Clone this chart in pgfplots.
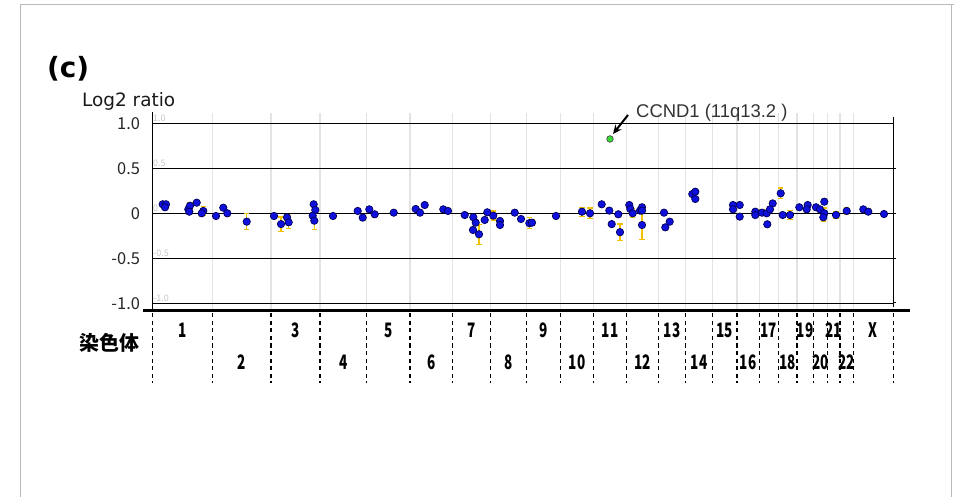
\documentclass[border=0pt]{standalone}
\usepackage{fontspec}
\usepackage{pgfplots}
\pgfplotsset{compat=1.18}
\usetikzlibrary{arrows.meta}
\setmainfont{DejaVu Sans}
\newfontfamily\jp{Noto Sans CJK JP}
\newfontfamily\cond[FakeStretch=0.68]{Noto Sans CJK JP}
\newfontfamily\lib{Liberation Sans}
\definecolor{dotblue}{HTML}{1010DD}
\definecolor{dotedge}{HTML}{00005A}
\definecolor{errgold}{HTML}{F2C200}
\definecolor{ccgreen}{HTML}{33DD33}
\definecolor{txt}{HTML}{333333}
\begin{document}
\begin{tikzpicture}
\path[use as bounding box] (0,0) rectangle (954bp,497bp);
\begin{axis}[
  at={(152.5bp,186.3bp)}, anchor=south west,
  scale only axis, width=740.8bp, height=198bp,
  xmin=152.5, xmax=893.3, ymin=-1.0822, ymax=1.1178,
  axis line style={draw=none},
  xtick={212.3,271,320,366.3,410,452.3,490.7,526.5,560.7,593.3,626.7,658.3,685.7,712.7,737,759.3,778.3,797,813.3,827.7,840,853.3},
  xticklabels={},
  ytick={-1,-0.5,0,0.5,1},
  yticklabels={-1.0,-0.5,0,0.5,1.0},
  major tick length=0pt,
  xmajorgrids, ymajorgrids,
  x grid style={gray!22, line width=1.2bp},
  y grid style={black, line width=0.9bp},
  yticklabel style={font=\fontsize{16.5}{18}\selectfont\jp, text=black!85, anchor=east, xshift=-9bp},
  clip=false,
]
\addplot[only marks, mark=*, mark size=3.7bp,
  mark options={fill=dotblue, draw=dotedge, line width=0.7bp},
  error bars/.cd, y dir=both, y explicit,
  error bar style={errgold, line width=1.3bp},
  error mark options={errgold, line width=1.3bp, mark size=2.7bp, rotate=90}]
table[x=x, y=y, y error=e] {
x y e
162.7 0.10 0.02
166 0.10 0.02
165 0.067 0.02
188.3 0.044 0.03
190 0.084 0.03
189.3 0.018 0.03
196.7 0.118 0.02
203.3 0.026 0.05
201.7 0.0 0.03
216 -0.03 0.03
223.3 0.062 0.02
227.3 0.0 0.03
246.7 -0.093 0.09
274 -0.03 0.02
281 -0.12 0.08
287 -0.045 0.03
288.7 -0.10 0.07
313.7 0.10 0.02
315.3 0.037 0.03
312.7 -0.027 0.03
314.3 -0.082 0.10
333 -0.03 0.02
357.7 0.026 0.02
362.7 -0.048 0.02
369.3 0.044 0.02
374.7 -0.011 0.03
393.7 0.007 0.02
415.7 0.048 0.02
420 0.007 0.02
424.7 0.092 0.02
443.3 0.044 0.03
448 0.026 0.02
464.7 -0.019 0.02
473.3 -0.044 0.02
475.7 -0.104 0.03
473 -0.185 0.03
479 -0.233 0.11
484.7 -0.074 0.02
487.3 0.011 0.03
493.3 -0.026 0.05
500 -0.085 0.02
500 -0.13 0.03
514.7 0.007 0.02
521 -0.063 0.02
529.3 -0.11 0.06
532 -0.104 0.03
556 -0.03 0.02
582 0.018 0.05
590 0.0 0.06
601.7 0.10 0.02
609.3 0.03 0.02
611.7 -0.12 0.02
618.3 -0.011 0.02
620 -0.21 0.09
629.3 0.092 0.02
630.3 0.048 0.03
632.7 0.0 0.05
640 0.03 0.02
642 0.067 0.03
642 0.03 0.02
642 -0.13 0.16
664 0.007 0.02
665.3 -0.156 0.03
669.7 -0.093 0.02
692.3 0.214 0.02
695.3 0.24 0.02
695.3 0.159 0.02
733 0.092 0.02
733 0.044 0.02
739.7 0.092 0.02
739.7 -0.037 0.03
755.3 0.018 0.02
755.3 -0.019 0.02
762 0.007 0.03
766.7 0 0.02
767.3 -0.122 0.02
772.7 0.11 0.02
770 0.044 0.02
780.7 0.222 0.06
782.7 -0.019 0.03
790 -0.019 0.05
799.3 0.067 0.02
807.7 0.092 0.02
806.7 0.044 0.03
816 0.067 0.02
820 0.044 0.02
824.3 0.129 0.03
824.3 0.0 0.06
823.3 -0.044 0.04
836 -0.019 0.04
846.7 0.026 0.04
863.3 0.044 0.02
868.3 0.018 0.03
884 -0.008 0.03
};
\addplot[only marks, mark=*, mark size=3.3bp,
  mark options={fill=ccgreen, draw=black!70, line width=0.7bp}]
coordinates {(610,0.826)};
\end{axis}
\begin{scope}[shift={(0,497bp)}, x=1bp, y=-1bp]
  % frame
  \draw[gray!55, line width=1bp] (20,497) -- (20,5) -- (954,5);
  \draw[gray!55, line width=1bp] (951,5) -- (951,497);
  % axis lines
  \draw[black, line width=1.5bp] (152.5,112.5) -- (152.5,311);
  \draw[black, line width=1.2bp] (893.3,117) -- (893.3,307);
  \foreach \yy in {168.3,213.3,258.3,303} \draw[black, line width=1bp] (893.3,\yy) -- (896,\yy);
  \draw[black, line width=2.6bp] (143,310.7) -- (910,310.7);
  % faint inner labels
  \foreach \t/\yy in {1.0/118,0.5/163,0/208,-0.5/253,-1.0/298}
    \node[anchor=west, inner sep=0, text=gray!45, font=\fontsize{9}{10}\selectfont\jp] at (153,\yy) {\t};
  % chromosome separators
  \foreach \xx in {152.5,212.3,271,320,366.3,410,452.3,490.7,526.5,560.7,593.3,626.7,658.3,685.7,712.7,737,759.3,778.3,797,813.3,827.7,840,853.3,893.3}
    \draw[black, line width=1.4bp, dash pattern=on 4.3bp off 3.3bp] (\xx,313) -- (\xx,383);
  % chromosome labels
  \foreach \lab/\xx/\row in {1/182.4/330,2/241.7/362,3/295.5/330,4/343.2/362,5/388.2/330,6/431.2/362,7/471.5/330,8/508.6/362,9/543.6/330,10/577/362,11/610/330,12/642.5/362,13/672/330,14/699.2/362,15/724.9/330,16/748.2/362,17/768.8/330,18/787.7/362,19/805.2/330,20/820.5/362,21/833.9/330,22/846.7/362,X/873.3/330}
    \node[inner sep=0, font=\fontsize{20}{21}\selectfont\cond\bfseries] at (\xx,\row) {\lab};
  % titles
  \node[anchor=west, inner sep=0, font=\fontsize{28}{29}\selectfont\bfseries] at (47,69) {(c)};
  \node[anchor=west, inner sep=0, font=\fontsize{18.5}{20}\selectfont, text=black!90] at (82,101) {Log2 ratio};
  \node[anchor=west, inner sep=0, font=\fontsize{20}{21}\selectfont\jp\bfseries] at (79,343) {染色体};
  % annotation
  \draw[-{Stealth[length=9bp,width=8bp]}, line width=2bp] (628,115) -- (613,134);
  \node[anchor=west, inner sep=0, text=txt, font=\fontsize{18.5}{20}\selectfont\lib] at (636,113) {CCND1 (11q13.2 )};
\end{scope}
\end{tikzpicture}
\end{document}
